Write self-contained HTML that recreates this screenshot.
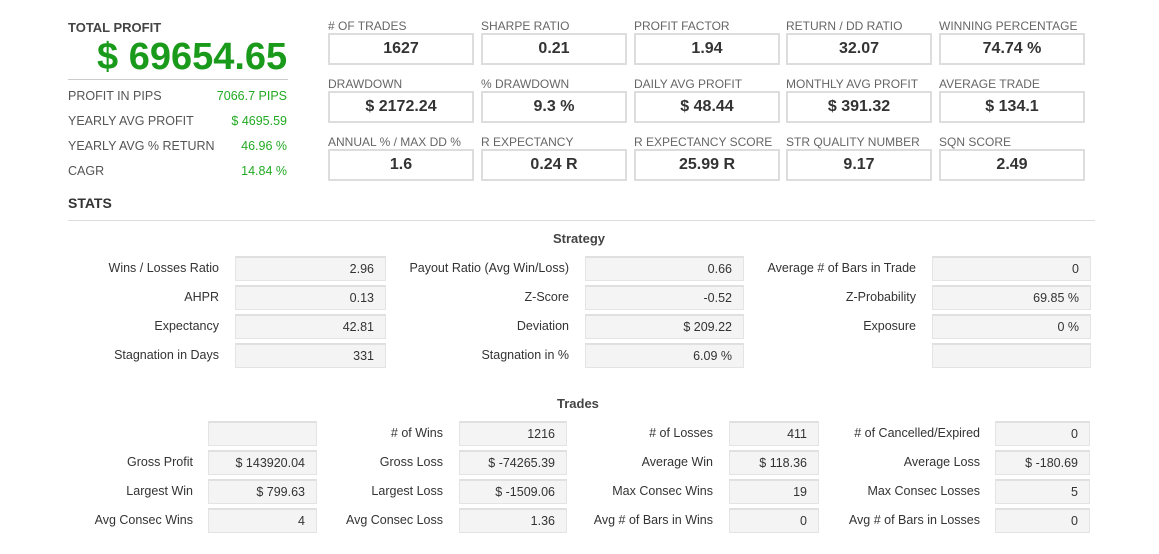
<!DOCTYPE html>
<html><head><meta charset="utf-8"><style>
*{margin:0;padding:0;box-sizing:border-box}
body{width:1159px;height:554px;background:#fff;font-family:"Liberation Sans",Arial,sans-serif;position:relative;overflow:hidden;color:#333}
.a{position:absolute;white-space:nowrap}
.tl{font-size:12px;color:#666}
.tb{position:absolute;width:146px;height:32px;border:2px solid #ddd;background:#fff;text-align:center;font-size:16px;font-weight:bold;line-height:28px;color:#333}
.lb{position:absolute;font-size:12.5px;color:#333;text-align:right;line-height:24px;white-space:nowrap}
.bx{position:absolute;height:25px;background:#f4f4f4;border:1px solid #e4e4e4;border-top:2px solid #e0e0e0;font-size:12.5px;text-align:right;padding-right:11px;line-height:22px;color:#333}
.g{color:#22aa22;font-size:12.5px}
.sl{font-size:12.5px;color:#555}
</style></head><body>
<div class="a" style="left:68px;top:20px;font-size:13px;font-weight:bold;color:#444">TOTAL PROFIT</div>
<div class="a" style="left:97px;top:36px;font-size:38px;font-weight:bold;color:#1a9a1a">$ 69654.65</div>
<div class="a" style="left:68px;top:79px;width:220px;border-top:1px solid #ccc"></div>
<div class="a sl" style="left:68px;top:89px">PROFIT IN PIPS</div><div class="a g" style="right:872px;top:89px">7066.7 PIPS</div>
<div class="a sl" style="left:68px;top:114px">YEARLY AVG PROFIT</div><div class="a g" style="right:872px;top:114px">$ 4695.59</div>
<div class="a sl" style="left:68px;top:139px">YEARLY AVG % RETURN</div><div class="a g" style="right:872px;top:139px">46.96 %</div>
<div class="a sl" style="left:68px;top:164px">CAGR</div><div class="a g" style="right:872px;top:164px">14.84 %</div>
<div class="a" style="left:68px;top:195px;font-size:14px;font-weight:bold;color:#333">STATS</div>
<div class="a" style="left:68px;top:220px;width:1027px;border-top:1px solid #ddd"></div>

<div class="a tl" style="left:328px;top:19px"># OF TRADES</div><div class="tb" style="left:328px;top:33px">1627</div>
<div class="a tl" style="left:481px;top:19px">SHARPE RATIO</div><div class="tb" style="left:481px;top:33px">0.21</div>
<div class="a tl" style="left:634px;top:19px">PROFIT FACTOR</div><div class="tb" style="left:634px;top:33px">1.94</div>
<div class="a tl" style="left:786px;top:19px">RETURN / DD RATIO</div><div class="tb" style="left:786px;top:33px">32.07</div>
<div class="a tl" style="left:939px;top:19px">WINNING PERCENTAGE</div><div class="tb" style="left:939px;top:33px">74.74 %</div>
<div class="a tl" style="left:328px;top:77px">DRAWDOWN</div><div class="tb" style="left:328px;top:91px">$ 2172.24</div>
<div class="a tl" style="left:481px;top:77px">% DRAWDOWN</div><div class="tb" style="left:481px;top:91px">9.3 %</div>
<div class="a tl" style="left:634px;top:77px">DAILY AVG PROFIT</div><div class="tb" style="left:634px;top:91px">$ 48.44</div>
<div class="a tl" style="left:786px;top:77px">MONTHLY AVG PROFIT</div><div class="tb" style="left:786px;top:91px">$ 391.32</div>
<div class="a tl" style="left:939px;top:77px">AVERAGE TRADE</div><div class="tb" style="left:939px;top:91px">$ 134.1</div>
<div class="a tl" style="left:328px;top:135px">ANNUAL % / MAX DD %</div><div class="tb" style="left:328px;top:149px">1.6</div>
<div class="a tl" style="left:481px;top:135px">R EXPECTANCY</div><div class="tb" style="left:481px;top:149px">0.24 R</div>
<div class="a tl" style="left:634px;top:135px">R EXPECTANCY SCORE</div><div class="tb" style="left:634px;top:149px">25.99 R</div>
<div class="a tl" style="left:786px;top:135px">STR QUALITY NUMBER</div><div class="tb" style="left:786px;top:149px">9.17</div>
<div class="a tl" style="left:939px;top:135px">SQN SCORE</div><div class="tb" style="left:939px;top:149px">2.49</div>

<div class="a" style="left:553px;top:231px;font-size:13px;font-weight:bold;color:#444">Strategy</div>
<div class="lb" style="right:940px;top:256px">Wins / Losses Ratio</div><div class="bx" style="left:235px;top:256px;width:151px">2.96</div>
<div class="lb" style="right:940px;top:285px">AHPR</div><div class="bx" style="left:235px;top:285px;width:151px">0.13</div>
<div class="lb" style="right:940px;top:314px">Expectancy</div><div class="bx" style="left:235px;top:314px;width:151px">42.81</div>
<div class="lb" style="right:940px;top:343px">Stagnation in Days</div><div class="bx" style="left:235px;top:343px;width:151px">331</div>
<div class="lb" style="right:590px;top:256px">Payout Ratio (Avg Win/Loss)</div><div class="bx" style="left:585px;top:256px;width:159px">0.66</div>
<div class="lb" style="right:590px;top:285px">Z-Score</div><div class="bx" style="left:585px;top:285px;width:159px">-0.52</div>
<div class="lb" style="right:590px;top:314px">Deviation</div><div class="bx" style="left:585px;top:314px;width:159px">$ 209.22</div>
<div class="lb" style="right:590px;top:343px">Stagnation in %</div><div class="bx" style="left:585px;top:343px;width:159px">6.09 %</div>
<div class="lb" style="right:243px;top:256px">Average # of Bars in Trade</div><div class="bx" style="left:932px;top:256px;width:159px">0</div>
<div class="lb" style="right:243px;top:285px">Z-Probability</div><div class="bx" style="left:932px;top:285px;width:159px">69.85 %</div>
<div class="lb" style="right:243px;top:314px">Exposure</div><div class="bx" style="left:932px;top:314px;width:159px">0 %</div>
<div class="bx" style="left:932px;top:343px;width:159px"></div>

<div class="a" style="left:557px;top:396px;font-size:13px;font-weight:bold;color:#444">Trades</div>
<div class="bx" style="left:208px;top:421px;width:109px"></div>
<div class="lb" style="right:966px;top:450px">Gross Profit</div><div class="bx" style="left:208px;top:450px;width:109px">$ 143920.04</div>
<div class="lb" style="right:966px;top:479px">Largest Win</div><div class="bx" style="left:208px;top:479px;width:109px">$ 799.63</div>
<div class="lb" style="right:966px;top:508px">Avg Consec Wins</div><div class="bx" style="left:208px;top:508px;width:109px">4</div>
<div class="lb" style="right:716px;top:421px"># of Wins</div><div class="bx" style="left:459px;top:421px;width:108px">1216</div>
<div class="lb" style="right:716px;top:450px">Gross Loss</div><div class="bx" style="left:459px;top:450px;width:108px">$ -74265.39</div>
<div class="lb" style="right:716px;top:479px">Largest Loss</div><div class="bx" style="left:459px;top:479px;width:108px">$ -1509.06</div>
<div class="lb" style="right:716px;top:508px">Avg Consec Loss</div><div class="bx" style="left:459px;top:508px;width:108px">1.36</div>
<div class="lb" style="right:446px;top:421px"># of Losses</div><div class="bx" style="left:729px;top:421px;width:90px">411</div>
<div class="lb" style="right:446px;top:450px">Average Win</div><div class="bx" style="left:729px;top:450px;width:90px">$ 118.36</div>
<div class="lb" style="right:446px;top:479px">Max Consec Wins</div><div class="bx" style="left:729px;top:479px;width:90px">19</div>
<div class="lb" style="right:446px;top:508px">Avg # of Bars in Wins</div><div class="bx" style="left:729px;top:508px;width:90px">0</div>
<div class="lb" style="right:179px;top:421px"># of Cancelled/Expired</div><div class="bx" style="left:995px;top:421px;width:95px">0</div>
<div class="lb" style="right:179px;top:450px">Average Loss</div><div class="bx" style="left:995px;top:450px;width:95px">$ -180.69</div>
<div class="lb" style="right:179px;top:479px">Max Consec Losses</div><div class="bx" style="left:995px;top:479px;width:95px">5</div>
<div class="lb" style="right:179px;top:508px">Avg # of Bars in Losses</div><div class="bx" style="left:995px;top:508px;width:95px">0</div>
</body></html>
